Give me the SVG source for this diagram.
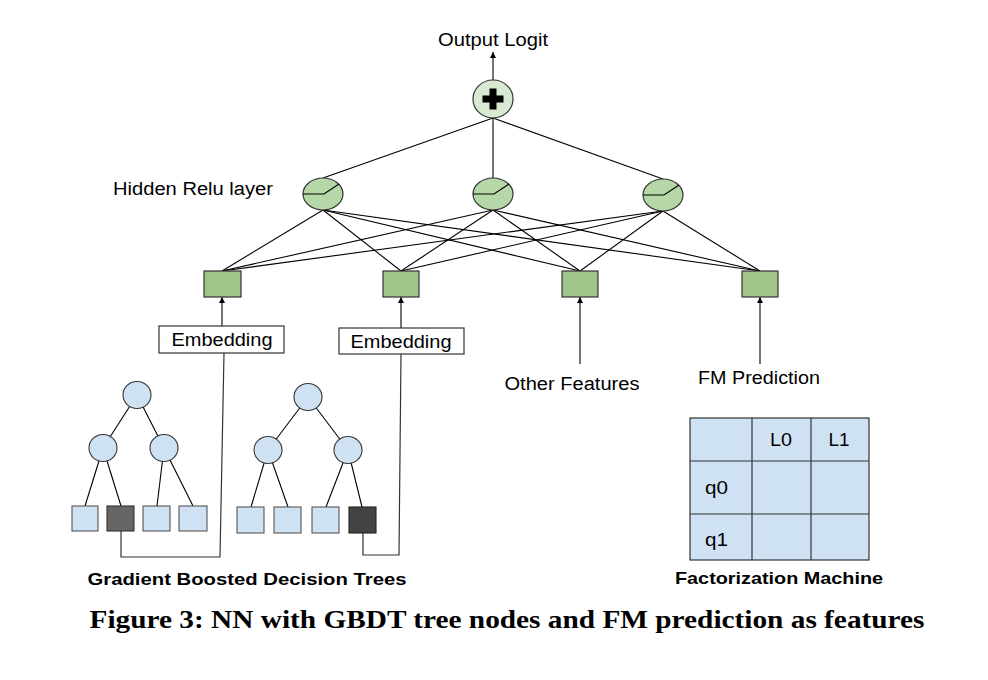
<svg xmlns="http://www.w3.org/2000/svg" width="988" height="680" viewBox="0 0 988 680">
<defs>
<style>
.t{font-family:"Liberation Sans",Arial,sans-serif;font-size:18px;fill:#000}
.b{font-family:"Liberation Sans",Arial,sans-serif;font-size:17px;font-weight:bold;fill:#000}
.cap{font-family:"Liberation Serif","Times New Roman",serif;font-size:25px;font-weight:bold;fill:#000}
.ln{stroke:#000;stroke-width:1.1;fill:none}
.cn{stroke:#333;stroke-width:1.2;fill:none}
.relu{fill:#b6d7a8;stroke:#333;stroke-width:1.2}
.sq{fill:#9fc589;stroke:#333;stroke-width:1.2}
.tn{fill:#cfe2f3;stroke:#333;stroke-width:1.1}
.lf{fill:#cfe2f3;stroke:#555;stroke-width:1.1}
.box{fill:#fff;stroke:#333;stroke-width:1.2}
.fm{fill:#cfe2f3;stroke:#333;stroke-width:1.2}
</style>
<marker id="ah" viewBox="0 0 10 10" refX="10" refY="5" markerWidth="6" markerHeight="6" orient="auto" markerUnits="userSpaceOnUse">
<path d="M0,0 L10,5 L0,10 z" fill="#000"/>
</marker>
</defs>
<rect width="988" height="680" fill="#fff"/>

<g id="connectors">
<line class="ln" x1="493" y1="80" x2="493" y2="52" marker-end="url(#ah)"/>
<line class="ln" x1="493" y1="118" x2="323" y2="178"/>
<line class="ln" x1="493" y1="118" x2="493" y2="178"/>
<line class="ln" x1="493" y1="118" x2="663" y2="179"/>
<line class="ln" x1="323" y1="210" x2="222" y2="271"/>
<line class="ln" x1="323" y1="210" x2="401" y2="271"/>
<line class="ln" x1="323" y1="210" x2="580" y2="271"/>
<line class="ln" x1="323" y1="210" x2="760" y2="271"/>
<line class="ln" x1="493" y1="210" x2="222" y2="271"/>
<line class="ln" x1="493" y1="210" x2="401" y2="271"/>
<line class="ln" x1="493" y1="210" x2="580" y2="271"/>
<line class="ln" x1="493" y1="210" x2="760" y2="271"/>
<line class="ln" x1="663" y1="211" x2="222" y2="271"/>
<line class="ln" x1="663" y1="211" x2="401" y2="271"/>
<line class="ln" x1="663" y1="211" x2="580" y2="271"/>
<line class="ln" x1="663" y1="211" x2="760" y2="271"/>
<line class="ln" x1="222" y1="326" x2="222" y2="297" marker-end="url(#ah)"/>
<line class="ln" x1="401" y1="328" x2="401" y2="297" marker-end="url(#ah)"/>
<line class="ln" x1="580" y1="364" x2="580" y2="297" marker-end="url(#ah)"/>
<line class="ln" x1="760" y1="364" x2="760" y2="297" marker-end="url(#ah)"/>
<polyline class="cn" points="121,531 121,557 220,557 224,353"/>
<polyline class="cn" points="363,533 363,555 399,555 401,354"/>
<line class="ln" x1="137" y1="395" x2="103" y2="448"/>
<line class="ln" x1="137" y1="395" x2="164" y2="448"/>
<line class="ln" x1="103" y1="448" x2="85" y2="506"/>
<line class="ln" x1="103" y1="448" x2="121" y2="506"/>
<line class="ln" x1="164" y1="448" x2="157" y2="506"/>
<line class="ln" x1="164" y1="448" x2="193" y2="506"/>
<line class="ln" x1="308" y1="397" x2="268" y2="450"/>
<line class="ln" x1="308" y1="397" x2="348" y2="450"/>
<line class="ln" x1="268" y1="450" x2="251" y2="507"/>
<line class="ln" x1="268" y1="450" x2="288" y2="507"/>
<line class="ln" x1="348" y1="450" x2="326" y2="507"/>
<line class="ln" x1="348" y1="450" x2="362" y2="507"/>
</g>

<g id="output-label">
<text class="t" x="493" y="46" text-anchor="middle" textLength="110" lengthAdjust="spacingAndGlyphs">Output Logit</text>
</g>

<g id="sum-node">
<ellipse cx="493" cy="99" rx="20" ry="19" fill="#d9ead3" stroke="#333" stroke-width="1.2"/>
<path d="M489.5,88.5 h7 v7 h7 v7 h-7 v7 h-7 v-7 h-7 v-7 h7 z" fill="#000"/>
</g>

<g id="hidden-label">
<text class="t" x="113" y="195" textLength="160" lengthAdjust="spacingAndGlyphs">Hidden Relu layer</text>
</g>

<g id="relu-1">
<ellipse class="relu" cx="323" cy="194" rx="20" ry="16"/>
<path class="ln" d="M303,194 H324 L339,184"/>
</g>
<g id="relu-2">
<ellipse class="relu" cx="493" cy="194" rx="20" ry="16"/>
<path class="ln" d="M473,194 H494 L509,184"/>
</g>
<g id="relu-3">
<ellipse class="relu" cx="663" cy="195" rx="20" ry="16"/>
<path class="ln" d="M643,195 H664 L679,185"/>
</g>

<g id="input-1"><rect class="sq" x="204" y="271" width="37" height="26"/></g>
<g id="input-2"><rect class="sq" x="383" y="271" width="36" height="26"/></g>
<g id="input-3"><rect class="sq" x="562" y="271" width="36" height="26"/></g>
<g id="input-4"><rect class="sq" x="742" y="271" width="36" height="26"/></g>

<g id="embedding-1">
<rect class="box" x="159" y="326" width="125" height="27"/>
<text class="t" x="222" y="346" text-anchor="middle" textLength="101" lengthAdjust="spacingAndGlyphs">Embedding</text>
</g>
<g id="embedding-2">
<rect class="box" x="339" y="328" width="125" height="26"/>
<text class="t" x="401" y="348" text-anchor="middle" textLength="101" lengthAdjust="spacingAndGlyphs">Embedding</text>
</g>

<g id="other-features">
<text class="t" x="572" y="390" text-anchor="middle" textLength="135" lengthAdjust="spacingAndGlyphs">Other Features</text>
</g>
<g id="fm-prediction">
<text class="t" x="759" y="384" text-anchor="middle" textLength="122" lengthAdjust="spacingAndGlyphs">FM Prediction</text>
</g>

<g id="tree-1">
<ellipse class="tn" cx="137" cy="395" rx="14" ry="13.5"/>
<ellipse class="tn" cx="103" cy="448" rx="14" ry="13.5"/>
<ellipse class="tn" cx="164" cy="448" rx="14" ry="13.5"/>
<rect class="lf" x="72" y="506" width="26" height="25"/>
<rect x="107" y="506" width="27" height="25" fill="#666" stroke="#333" stroke-width="1.1"/>
<rect class="lf" x="143" y="506" width="27" height="25"/>
<rect class="lf" x="179" y="506" width="28" height="25"/>
</g>
<g id="tree-2">
<ellipse class="tn" cx="308" cy="397" rx="14" ry="13.5"/>
<ellipse class="tn" cx="268" cy="450" rx="14" ry="13.5"/>
<ellipse class="tn" cx="348" cy="450" rx="14" ry="13.5"/>
<rect class="lf" x="237" y="507" width="27" height="26"/>
<rect class="lf" x="274" y="507" width="27" height="26"/>
<rect class="lf" x="312" y="507" width="27" height="26"/>
<rect x="349" y="507" width="27" height="26" fill="#434343" stroke="#222" stroke-width="1.1"/>
</g>

<g id="gbdt-label">
<text class="b" x="247" y="585" text-anchor="middle" textLength="319" lengthAdjust="spacingAndGlyphs">Gradient Boosted Decision Trees</text>
</g>

<g id="fm-table">
<rect class="fm" x="690" y="418" width="179" height="142"/>
<line class="cn" x1="752" y1="418" x2="752" y2="560"/>
<line class="cn" x1="811" y1="418" x2="811" y2="560"/>
<line class="cn" x1="690" y1="461" x2="869" y2="461"/>
<line class="cn" x1="690" y1="514" x2="869" y2="514"/>
<text class="t" x="781" y="446" text-anchor="middle" textLength="22" lengthAdjust="spacingAndGlyphs">L0</text>
<text class="t" x="839" y="446" text-anchor="middle" textLength="21" lengthAdjust="spacingAndGlyphs">L1</text>
<text class="t" x="705" y="494" textLength="23" lengthAdjust="spacingAndGlyphs">q0</text>
<text class="t" x="705" y="546" textLength="23" lengthAdjust="spacingAndGlyphs">q1</text>
</g>
<g id="fm-label">
<text class="b" x="779" y="584" text-anchor="middle" textLength="208" lengthAdjust="spacingAndGlyphs">Factorization Machine</text>
</g>

<g id="caption">
<text class="cap" x="507" y="628" text-anchor="middle" textLength="835" lengthAdjust="spacingAndGlyphs">Figure 3: NN with GBDT tree nodes and FM prediction as features</text>
</g>
</svg>
